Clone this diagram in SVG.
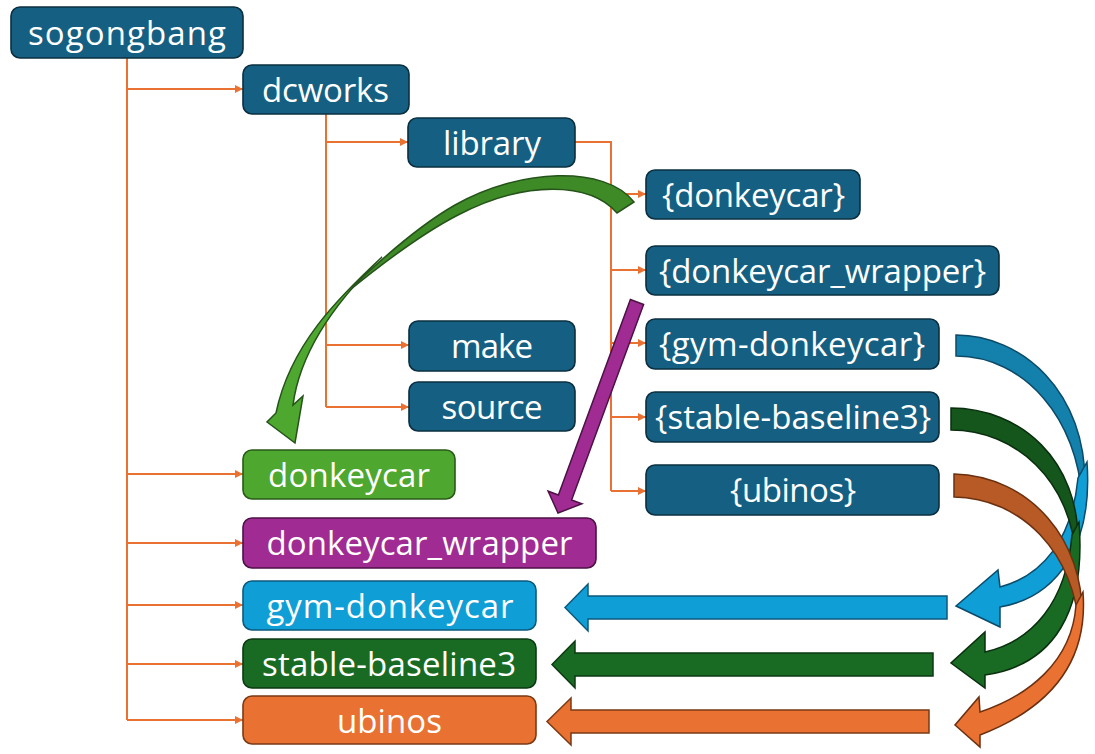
<svg xmlns="http://www.w3.org/2000/svg" width="1095" height="754" viewBox="0 0 1095 754">
<defs>
<marker id="ah" viewBox="0 0 10 10" refX="10" refY="5" markerUnits="userSpaceOnUse" markerWidth="9" markerHeight="8" orient="auto">
<path d="M0,0 L10,5 L0,10 z" fill="#e97132"/>
</marker>
<style>
.n rect{stroke-width:1.6}
.n text{font-family:"Open Sans","Noto Sans","DejaVu Sans",sans-serif;font-size:33px;fill:#ffffff;text-anchor:middle}
.d rect{fill:#156082;stroke:#0b2f40}
.c line,.c polyline{stroke:#e97132;stroke-width:2;fill:none}
.c .a{marker-end:url(#ah)}
.ar path{stroke-width:1.5;stroke-linejoin:miter}
</style>
</defs>
<rect width="1095" height="754" fill="#ffffff"/>
<g id="connectors" class="c">
<line x1="127" y1="58" x2="127" y2="720"/>
<line class="a" x1="127" y1="89" x2="243" y2="89"/>
<line class="a" x1="127" y1="474" x2="243" y2="474"/>
<line class="a" x1="127" y1="543" x2="243" y2="543"/>
<line class="a" x1="127" y1="605" x2="243" y2="605"/>
<line class="a" x1="127" y1="664" x2="243" y2="664"/>
<line class="a" x1="127" y1="720" x2="243" y2="720"/>
<line x1="326" y1="114" x2="326" y2="407"/>
<line class="a" x1="326" y1="142" x2="408" y2="142"/>
<line class="a" x1="326" y1="345" x2="409" y2="345"/>
<line class="a" x1="326" y1="407" x2="409" y2="407"/>
<polyline points="575,142 611,142 611,491"/>
<line class="a" x1="611" y1="194" x2="646" y2="194"/>
<line class="a" x1="611" y1="270" x2="646" y2="270"/>
<line class="a" x1="611" y1="343" x2="646" y2="343"/>
<line class="a" x1="611" y1="417" x2="646" y2="417"/>
<line class="a" x1="611" y1="491" x2="646" y2="491"/>
</g>
<g id="n-sogongbang" class="n d"><rect x="11" y="7" width="232" height="51" rx="9"/><text x="127" y="45" textLength="198" lengthAdjust="spacing">sogongbang</text></g>
<g id="n-dcworks" class="n d"><rect x="243" y="65" width="166" height="49" rx="9"/><text x="325.5" y="102" textLength="127" lengthAdjust="spacing">dcworks</text></g>
<g id="n-library" class="n d"><rect x="408" y="118" width="167" height="49" rx="9"/><text x="492" y="155" textLength="98" lengthAdjust="spacing">library</text></g>
<g id="n-make" class="n d"><rect x="409" y="321" width="166" height="50" rx="9"/><text x="492" y="358" textLength="82" lengthAdjust="spacing">make</text></g>
<g id="n-source" class="n d"><rect x="409" y="382" width="166" height="49" rx="9"/><text x="492" y="419" textLength="101" lengthAdjust="spacing">source</text></g>
<g id="n-lib-donkeycar" class="n d"><rect x="646" y="170" width="214" height="49" rx="9"/><text x="753.5" y="207" textLength="183" lengthAdjust="spacing">{donkeycar}</text></g>
<g id="n-lib-donkeycar_wrapper" class="n d"><rect x="646" y="246" width="353" height="49" rx="9"/><text x="822.5" y="283" textLength="327" lengthAdjust="spacing">{donkeycar_wrapper}</text></g>
<g id="n-lib-gym-donkeycar" class="n d"><rect x="646" y="319" width="293" height="50" rx="9"/><text x="792" y="356" textLength="266" lengthAdjust="spacing">{gym-donkeycar}</text></g>
<g id="n-lib-stable-baseline3" class="n d"><rect x="646" y="392" width="293" height="50" rx="9"/><text x="793" y="429" textLength="276" lengthAdjust="spacing">{stable-baseline3}</text></g>
<g id="n-lib-ubinos" class="n d"><rect x="646" y="465" width="293" height="50" rx="9"/><text x="793" y="502" textLength="126" lengthAdjust="spacing">{ubinos}</text></g>
<g id="n-donkeycar" class="n"><rect x="243" y="450" width="212" height="49" rx="9" fill="#4ea72e" stroke="#2a5b18"/><text x="349" y="487" textLength="162" lengthAdjust="spacing">donkeycar</text></g>
<g id="n-donkeycar_wrapper" class="n"><rect x="243" y="518" width="353" height="50" rx="9" fill="#a02b93" stroke="#4c1246"/><text x="419.5" y="555" textLength="306" lengthAdjust="spacing">donkeycar_wrapper</text></g>
<g id="n-gym-donkeycar" class="n"><rect x="243" y="581" width="293" height="49" rx="9" fill="#0f9ed5" stroke="#0b5a7d"/><text x="390" y="618" textLength="247" lengthAdjust="spacing">gym-donkeycar</text></g>
<g id="n-stable-baseline3" class="n"><rect x="243" y="639" width="293" height="49" rx="9" fill="#196b24" stroke="#0c3a12"/><text x="389" y="676" textLength="254" lengthAdjust="spacing">stable-baseline3</text></g>
<g id="n-ubinos" class="n"><rect x="243" y="696" width="293" height="48" rx="9" fill="#e97132" stroke="#7a3a14"/><text x="389.5" y="733" textLength="105" lengthAdjust="spacing">ubinos</text></g>
<g id="arrows" class="ar">
<g id="arrow-green-curved">
<path d="M634,202 C605,165 520,168 455,205 C420,225 385,255 345,294 C390,257 425,232 458,215 C525,180 590,182 617,213 Z" fill="#3e8a27" stroke="#25531a"/>
<path d="M382,257 C338,298 290,345 276,413 L267,422 L295,443 L303,396 L293,405 C300,352 335,302 382,257 Z" fill="#4ea72e" stroke="#25531a"/>
</g>
<path id="arrow-purple" d="M630.4,299.5 L643.6,304.5 L571.6,500 L581.9,503.8 L558,513 L548.1,491.2 L558.4,495 Z" fill="#a02b93" stroke="#4c1246"/>
<g id="arrow-blue-curved">
<path d="M956,335 C1020,335 1088,390 1085,490 L1082,500 C1078,420 1025,356 956,356 Z" fill="#1481ad" stroke="#0b4a68"/>
<path d="M1087,462 C1093,545 1058,597 1000,607 L1000,627 L956,606 L998,570 L1000,587 C1042,576 1072,540 1078,478 Z" fill="#0f9ed5" stroke="#0b4a68"/>
</g>
<g id="arrow-green-dark-curved">
<path d="M951,408 C1020,408 1080,460 1078,545 L1076,560 C1072,480 1015,430 951,430 Z" fill="#14561c" stroke="#0a2e0e"/>
<path d="M1079,522 C1086,610 1055,665 985,675 L985,688 L951,663 L985,632 L985,652 C1033,641 1066,602 1072,535 Z" fill="#196b24" stroke="#0a2e0e"/>
</g>
<g id="arrow-orange-curved">
<path d="M954,474 C1030,476 1085,540 1082,620 L1080,635 C1075,550 1020,498 954,497 Z" fill="#b85a26" stroke="#6b3010"/>
<path d="M1083,592 C1089,670 1040,712 980,735 L980,747 L955,725 L979,697 L980,712 C1028,696 1072,662 1076,605 Z" fill="#e97132" stroke="#6b3010"/>
</g>
<path id="arrow-blue" d="M947,596 L588,596 L588,584 L565,607.5 L588,631 L588,619 L947,619 Z" fill="#0f9ed5" stroke="#0b5a7d"/>
<path id="arrow-green" d="M933,653 L575,653 L575,641 L552,664.5 L575,688 L575,676 L933,676 Z" fill="#196b24" stroke="#0c3a12"/>
<path id="arrow-orange" d="M929,710 L571,710 L571,698 L547,721.5 L571,745 L571,733 L929,733 Z" fill="#e97132" stroke="#7a3a14"/>
</g>
</svg>
